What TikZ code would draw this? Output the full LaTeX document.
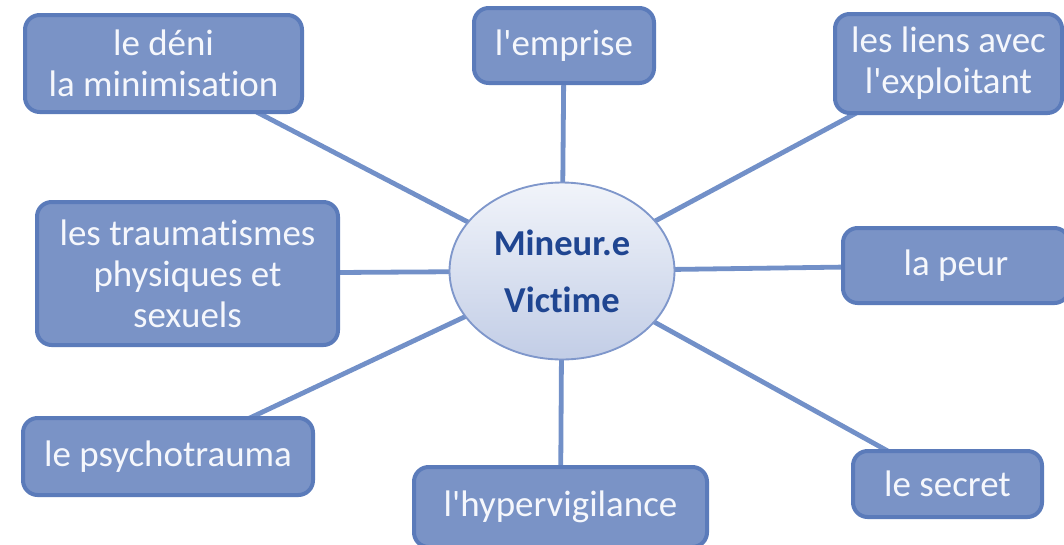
\documentclass[tikz,border=0pt]{standalone}
\usepackage{fontspec}
\setmainfont{Carlito}[Ligatures={TeXOff,NoCommon}]
\usetikzlibrary{shapes.geometric,backgrounds}
\definecolor{boxfill}{HTML}{7A93C6}
\definecolor{boxline}{HTML}{5B7BBA}
\definecolor{linkcol}{HTML}{7290C8}
\definecolor{elltop}{HTML}{F1F4FA}
\definecolor{ellbot}{HTML}{C2CDE6}
\definecolor{ellline}{HTML}{7F97CB}
\definecolor{elltext}{HTML}{1F4591}
\definecolor{boxtext}{HTML}{F5F7FC}
\tikzset{
  topic/.style={draw=boxline, line width=3pt, fill=boxfill, rounded corners=11pt,
    text=boxtext, align=center, inner sep=0pt,
    font=\fontsize{27.7}{30.8}\selectfont},
  hub/.style={ellipse, draw=ellline, line width=1.4pt, top color=elltop, bottom color=ellbot,
    text=elltext, align=center, inner sep=0pt,
    font=\fontsize{27.4}{42.5}\selectfont\bfseries},
  link/.style={draw=linkcol, line width=3.6pt}
}
\begin{document}
\begin{tikzpicture}[x=0.75pt,y=-0.75pt]
\useasboundingbox (0,0) rectangle (1064,544);
\clip (0,0) rectangle (1064,544);
\node[hub, minimum width=225*0.75pt, minimum height=177*0.75pt] (hub) at (562,271) {Mineur.e\\Victime};
\node[topic, minimum width=277*0.75pt, minimum height=97*0.75pt] (deni) at (163.5,63.5) {le déni\\la minimisation};
\node[topic, minimum width=180*0.75pt, minimum height=75*0.75pt] (emprise) at (564,45.5) {l'emprise};
\node[topic, minimum width=227*0.75pt, minimum height=99*0.75pt] (liens) at (948.5,63.5) {les liens avec\\l'exploitant};
\node[topic, minimum width=301*0.75pt, minimum height=143*0.75pt] (trauma) at (187.5,273.5) {les traumatismes\\physiques et\\sexuels};
\node[topic, minimum width=226*0.75pt, minimum height=75*0.75pt] (peur) at (956,265.5) {la peur};
\node[topic, minimum width=290*0.75pt, minimum height=77*0.75pt] (psycho) at (168,456.5) {le psychotrauma};
\node[topic, minimum width=293*0.75pt, minimum height=80*0.75pt] (hyper) at (560.5,507) {l'hypervigilance};
\node[topic, minimum width=189*0.75pt, minimum height=66*0.75pt] (secret) at (947.5,484) {le secret};
\begin{scope}[on background layer]
\foreach \t in {deni,emprise,liens,trauma,peur,psycho,hyper,secret}
  \draw[link] (hub.center) -- (\t.center);
\end{scope}
\end{tikzpicture}
\end{document}
